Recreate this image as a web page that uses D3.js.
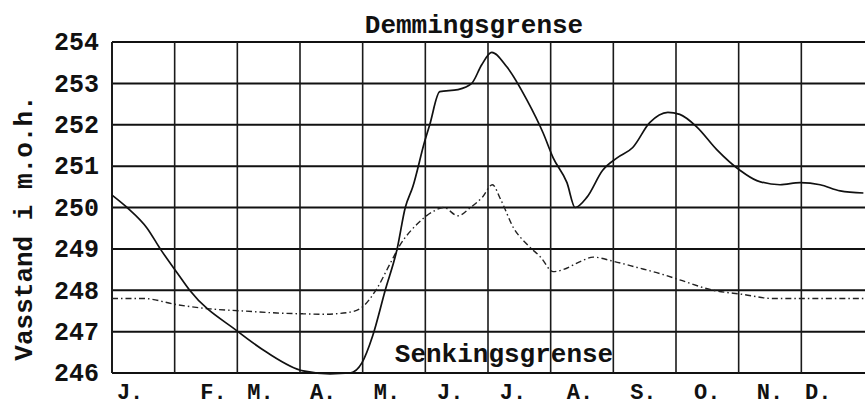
<!DOCTYPE html>
<html>
<head>
<meta charset="utf-8">
<script src="https://cdn.jsdelivr.net/npm/d3@7"></script>
<style>
  html, body { margin: 0; padding: 0; background: #fff; }
  svg { display: block; }
  text { font-family: "Liberation Mono", "Courier New", monospace; fill: #111; }
</style>
</head>
<body>
<svg id="chart" width="865" height="406"></svg>
<script>
// ---- data ----
const yTicks = [246, 247, 248, 249, 250, 251, 252, 253, 254];
const monthLabels = ["J.", "F.", "M.", "A.", "M.", "J.", "J.", "A.", "S.", "O.", "N.", "D."];
// label start positions in month units (typed, unevenly spaced)
const monthLabelPos = [0.11, 1.44, 2.19, 3.19, 4.21, 5.22, 6.22, 7.29, 8.30, 9.32, 10.32, 11.09];
const monthGrid = [0, 1, 2, 3, 4, 5, 6, 7, 8, 9, 10, 11];

// solid curve: time (months) and water level (m.o.h.)
const solidT = [0.0, 0.24, 0.56, 0.77, 1.05, 1.24, 2.01, 2.47, 3.05, 3.48, 3.80, 3.99, 4.16, 4.36, 4.55, 4.68, 4.80, 4.99, 5.07, 5.23, 5.52, 5.74, 5.90, 6.06, 6.30, 6.62, 6.88, 7.04, 7.26, 7.39, 7.58, 7.83, 8.06, 8.31, 8.58, 8.87, 9.06, 9.33, 9.65, 10.02, 10.29, 10.66, 10.98, 11.30, 11.62, 11.99];
const solidV = [250.3, 250.0, 249.5, 249.0, 248.4, 248.0, 247.0, 246.5, 246.05, 245.98, 246.0, 246.25, 246.9, 248.0, 249.0, 250.0, 250.5, 251.6, 252.0, 252.8, 252.85, 253.0, 253.45, 253.75, 253.4, 252.6, 251.8, 251.2, 250.6, 250.0, 250.25, 250.9, 251.2, 251.45, 252.05, 252.3, 252.25, 251.95, 251.4, 250.9, 250.65, 250.55, 250.6, 250.55, 250.4, 250.35];

// dash-dot curve
const dashT = [0.0, 0.5, 1.04, 1.56, 2.09, 2.63, 3.05, 3.36, 3.80, 4.0, 4.23, 4.44, 4.6, 4.87, 5.12, 5.29, 5.52, 5.72, 5.91, 6.07, 6.2, 6.41, 6.63, 6.84, 7.04, 7.2, 7.48, 7.68, 8.0, 8.38, 8.75, 9.06, 9.59, 10.07, 10.55, 11.03, 11.5, 11.99];
const dashV = [247.8, 247.8, 247.65, 247.55, 247.5, 247.45, 247.43, 247.42, 247.47, 247.6, 248.05, 248.65, 249.1, 249.6, 249.9, 250.0, 249.8, 250.0, 250.25, 250.55, 250.2, 249.5, 249.1, 248.8, 248.45, 248.5, 248.7, 248.8, 248.7, 248.55, 248.4, 248.25, 248.0, 247.9, 247.8, 247.8, 247.8, 247.8];

const yTitle = "Vasstand i m.o.h.";
const topNote = "Demmingsgrense";
const bottomNote = "Senkingsgrense";

// ---- layout ----
const svg = d3.select("#chart");
const x = d3.scaleLinear().domain([0, 12]).range([112, 864]);
const y = d3.scaleLinear().domain([246, 254]).range([373, 42]);

// horizontal grid
svg.append("g").selectAll("line").data(yTicks).join("line")
  .attr("x1", x(0)).attr("x2", 865)
  .attr("y1", d => y(d)).attr("y2", d => y(d))
  .attr("stroke", "#111").attr("stroke-width", 2);

// vertical grid
svg.append("g").selectAll("line").data(monthGrid).join("line")
  .attr("x1", d => x(d)).attr("x2", d => x(d))
  .attr("y1", y(254)).attr("y2", y(246))
  .attr("stroke", "#1a1a1a").attr("stroke-width", d => d === 0 ? 2 : 1.6);

// y tick labels
svg.append("g").selectAll("text").data(yTicks).join("text")
  .attr("x", 99).attr("y", d => y(d))
  .attr("dy", "0.33em")
  .attr("text-anchor", "end")
  .attr("font-size", 25).attr("font-weight", "bold")
  .text(d => d);

// month labels
svg.append("g").selectAll("text").data(monthLabels).join("text")
  .attr("x", (d, i) => x(monthLabelPos[i]) - 2).attr("y", 399)
  .attr("text-anchor", "start")
  .attr("font-size", 22).attr("font-weight", "bold")
  .text(d => d);

// y title
svg.append("text")
  .attr("transform", `translate(32, ${228}) rotate(-90)`)
  .attr("text-anchor", "middle")
  .attr("font-size", 26).attr("font-weight", "bold")
  .text(yTitle);

// annotations
svg.append("text").attr("x", 474).attr("y", 33)
  .attr("text-anchor", "middle").attr("font-size", 26).attr("font-weight", "bold")
  .text(topNote);
svg.append("text").attr("x", 504).attr("y", 362)
  .attr("text-anchor", "middle").attr("font-size", 26).attr("font-weight", "bold")
  .text(bottomNote);

// curves
const line = d3.line().x(d => x(d[0])).y(d => y(d[1])).curve(d3.curveMonotoneX);
svg.append("path")
  .attr("d", line(dashT.map((t, i) => [t, dashV[i]])))
  .attr("fill", "none").attr("stroke", "#222").attr("stroke-width", 1.4)
  .attr("stroke-dasharray", "6,3,1.5,3");
svg.append("path")
  .attr("d", line(solidT.map((t, i) => [t, solidV[i]])))
  .attr("fill", "none").attr("stroke", "#111").attr("stroke-width", 1.7);
</script>
</body>
</html>
